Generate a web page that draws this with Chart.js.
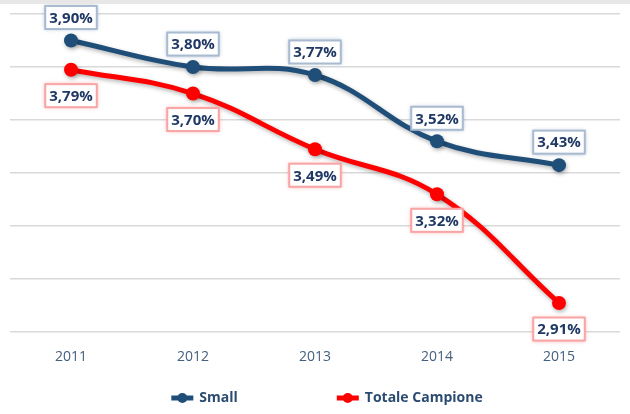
<!DOCTYPE html>
<html>
<head>
<meta charset="utf-8">
<script src="https://cdn.jsdelivr.net/npm/chart.js@4/dist/chart.umd.min.js"></script>
<style>
  body { margin: 0; background: #fff; }
  #wrap { width: 630px; height: 414px; position: relative; }
  #wrap:before { content: ''; position: absolute; left: 0; top: 0; width: 630px; height: 4px; background: #e7e7e7; }
</style>
</head>
<body>
<div id="wrap"><canvas id="chart" width="630" height="414"></canvas></div>
<script>
const years = ['2011', '2012', '2013', '2014', '2015'];
const small = [3.90, 3.80, 3.77, 3.52, 3.43];
const totale = [3.79, 3.70, 3.49, 3.32, 2.91];

const blue = '#1f4e79';
const red = '#ff0000';
const textNavy = '#1f3864';

const fmt = v => v.toFixed(2).replace('.', ',') + '%';

// shadow under the lines
const lineShadow = {
    id: 'lineShadow',
    beforeDatasetsDraw(chart) {
        const ctx = chart.ctx;
        ctx.save();
        ctx.shadowColor = 'rgba(0,0,0,0.3)';
        ctx.shadowBlur = 4;
        ctx.shadowOffsetX = 1;
        ctx.shadowOffsetY = 2;
    },
    afterDatasetsDraw(chart) {
        chart.ctx.restore();
    }
};

// boxed value labels
const valueBoxes = {
    id: 'valueBoxes',
    afterDatasetsDraw(chart) {
        const ctx = chart.ctx;
        ctx.save();
        ctx.font = 'bold 15px "Open Sans"';
        ctx.textAlign = 'center';
        ctx.textBaseline = 'middle';
        chart.data.datasets.forEach((ds, i) => {
            const meta = chart.getDatasetMeta(i);
            meta.data.forEach((pt, j) => {
                const txt = fmt(ds.data[j]);
                const w = ctx.measureText(txt).width + 8;
                const h = 23;
                const cy = pt.y + ds.labelOffset;
                ctx.shadowColor = ds.boxGlow;
                ctx.shadowBlur = 4;
                ctx.fillStyle = '#fff';
                ctx.fillRect(pt.x - w / 2, cy - h / 2, w, h);
                ctx.shadowBlur = 0;
                ctx.strokeStyle = ds.boxBorder;
                ctx.lineWidth = 2;
                ctx.strokeRect(pt.x - w / 2, cy - h / 2, w, h);
                ctx.fillStyle = textNavy;
                ctx.fillText(txt, pt.x, cy + 1);
            });
        });
        ctx.restore();
    }
};

// legend with line + dot markers
const lineLegend = {
    id: 'lineLegend',
    afterDraw(chart) {
        const ctx = chart.ctx;
        ctx.save();
        ctx.font = 'bold 14px "Open Sans"';
        ctx.textBaseline = 'middle';
        const y = 398;
        const gap = 99;
        const items = chart.data.datasets.map(ds => ({
            ds, w: 28 + ctx.measureText(ds.label).width
        }));
        const total = items.reduce((s, it) => s + it.w, 0) + gap * (items.length - 1);
        let x = (chart.chartArea.left + chart.chartArea.right) / 2 + 12 - total / 2;
        items.forEach(it => {
            ctx.strokeStyle = it.ds.borderColor;
            ctx.lineWidth = 5;
            ctx.beginPath();
            ctx.moveTo(x, y);
            ctx.lineTo(x + 22, y);
            ctx.stroke();
            ctx.fillStyle = it.ds.borderColor;
            ctx.beginPath();
            ctx.arc(x + 11, y, 5, 0, Math.PI * 2);
            ctx.fill();
            ctx.fillStyle = '#2b4c70';
            ctx.fillText(it.ds.label, x + 28, y);
            x += it.w + gap;
        });
        ctx.restore();
    }
};

new Chart(document.querySelector('#chart'), {
    type: 'line',
    data: {
        labels: years,
        datasets: [
            {
                label: 'Small',
                data: small,
                borderColor: blue,
                backgroundColor: blue,
                borderWidth: 5,
                pointRadius: 7,
                pointBorderWidth: 0,
                tension: 0.4,
                labelOffset: -23,
                boxBorder: '#a9bbd0',
                boxGlow: 'rgba(90,120,160,0.6)'
            },
            {
                label: 'Totale Campione',
                data: totale,
                borderColor: red,
                backgroundColor: red,
                borderWidth: 5,
                pointRadius: 7,
                pointBorderWidth: 0,
                tension: 0.4,
                labelOffset: 26,
                boxBorder: '#f7a5a5',
                boxGlow: 'rgba(255,90,90,0.6)'
            }
        ]
    },
    options: {
        responsive: false,
        animation: false,
        layout: { padding: { left: 10, right: 10, top: 14, bottom: 33 } },
        plugins: {
            legend: { display: false },
            tooltip: { enabled: false }
        },
        scales: {
            x: {
                offset: true,
                grid: { display: false, drawTicks: false },
                border: { display: false },
                ticks: {
                    padding: 16,
                    color: '#44607f',
                    font: { family: 'Open Sans', size: 14 }
                }
            },
            y: {
                min: 2.8,
                max: 4.0,
                ticks: { stepSize: 0.2, display: false },
                grid: { color: '#d9d9d9', lineWidth: 1.5, drawTicks: false },
                border: { display: false }
            }
        }
    },
    plugins: [lineShadow, valueBoxes, lineLegend]
});
</script>
</body>
</html>
